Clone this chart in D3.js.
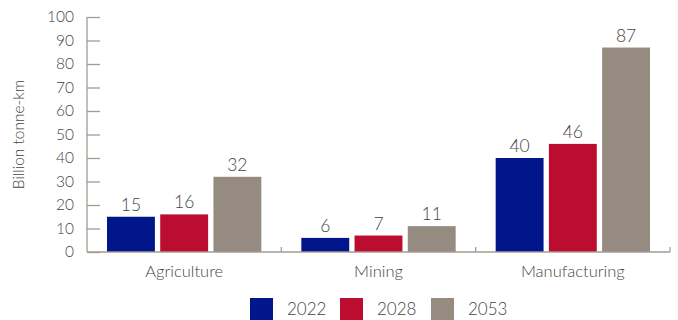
<!DOCTYPE html>
<html>
<head>
<meta charset="utf-8">
<script src="https://cdnjs.cloudflare.com/ajax/libs/d3/7.8.5/d3.min.js"></script>
<style>
  html, body { margin: 0; padding: 0; background: #fff; }
  svg text { font-family: Lato, "Open Sans", sans-serif; font-weight: 300; fill: #444; }
</style>
</head>
<body>
<svg id="chart" width="678" height="320"></svg>
<script>
// Freight volumes by sector (billion tonne-km)
const categories = ["Agriculture", "Mining", "Manufacturing"];
const years = ["2022", "2028", "2053"];
const values2022 = [15, 6, 40];
const values2028 = [16, 7, 46];
const values2053 = [32, 11, 87];
const yTicks = [0, 10, 20, 30, 40, 50, 60, 70, 80, 90, 100];
const colors = ["#00168a", "#bb0d30", "#968b81"];

const seriesValues = [values2022, values2028, values2053];

const svg = d3.select("#chart");
const margin = { left: 87, right: 8, top: 17, bottom: 68 };
const width = 678, height = 320;
const axisColor = "#a59b91";

const x0 = d3.scaleBand().domain(categories)
  .range([margin.left, width - margin.right]).paddingInner(0).paddingOuter(0);
const x1 = d3.scaleBand().domain(years)
  .range([20, x0.bandwidth() - 20]).paddingInner(0.1);
const y = d3.scaleLinear().domain([0, 100]).range([height - margin.bottom, margin.top]);

// y axis
const yAxis = svg.append("g").attr("transform", `translate(${margin.left},0)`)
  .call(d3.axisRight(y).tickValues(yTicks).tickSize(13).tickFormat(""));
yAxis.select(".domain").remove();
yAxis.selectAll(".tick line").attr("stroke", axisColor).attr("stroke-width", 1.3);
svg.append("line")
  .attr("x1", margin.left).attr("x2", margin.left)
  .attr("y1", y(100)).attr("y2", y(0))
  .attr("stroke", axisColor).attr("stroke-width", 1.3);

svg.append("g").selectAll("text").data(yTicks).join("text")
  .attr("x", margin.left - 13).attr("y", d => y(d))
  .attr("dy", "0.35em").attr("text-anchor", "end")
  .attr("font-size", 15.5).text(d => d);

svg.append("text")
  .attr("transform", `translate(24,${(y(0) + y(100)) / 2}) rotate(-90)`)
  .attr("text-anchor", "middle").attr("font-size", 15.5)
  .text("Billion tonne-km");

// bars
const groups = svg.append("g").selectAll("g").data(categories).join("g")
  .attr("transform", d => `translate(${x0(d)},0)`);

groups.selectAll("rect")
  .data((c, i) => years.map((yr, j) => ({ yr, j, v: seriesValues[j][i] })))
  .join("rect")
  .attr("x", d => x1(d.yr)).attr("width", x1.bandwidth())
  .attr("y", d => y(d.v)).attr("height", d => y(0) - y(d.v))
  .attr("fill", d => colors[d.j]);

groups.selectAll("text.val")
  .data((c, i) => years.map((yr, j) => ({ yr, j, v: seriesValues[j][i] })))
  .join("text").attr("class", "val")
  .attr("x", d => x1(d.yr) + x1.bandwidth() / 2).attr("y", d => y(d.v) - 6)
  .attr("text-anchor", "middle").attr("font-size", 17.5)
  .text(d => d.v);

// x axis
svg.append("line")
  .attr("x1", margin.left).attr("x2", width - margin.right)
  .attr("y1", y(0)).attr("y2", y(0))
  .attr("stroke", axisColor).attr("stroke-width", 1.3);
const bounds = categories.slice(1).map(c => x0(c)).concat([width - margin.right]);
svg.append("g").selectAll("line").data(bounds).join("line")
  .attr("x1", d => d).attr("x2", d => d)
  .attr("y1", y(0)).attr("y2", y(0) - 5)
  .attr("stroke", axisColor).attr("stroke-width", 1.3);

svg.append("g").selectAll("text").data(categories).join("text")
  .attr("x", d => x0(d) + x0.bandwidth() / 2).attr("y", y(0) + 25)
  .attr("text-anchor", "middle").attr("font-size", 16.5)
  .text(d => d);

// legend
const legendX = [250, 340, 431];
const legend = svg.append("g").selectAll("g").data(years).join("g")
  .attr("transform", (d, i) => `translate(${legendX[i]},298)`);
legend.append("rect").attr("width", 23).attr("height", 22)
  .attr("fill", (d, i) => colors[i]);
legend.append("text").attr("x", 37).attr("y", 11).attr("dy", "0.35em")
  .attr("font-size", 17).text(d => d);
</script>
</body>
</html>
